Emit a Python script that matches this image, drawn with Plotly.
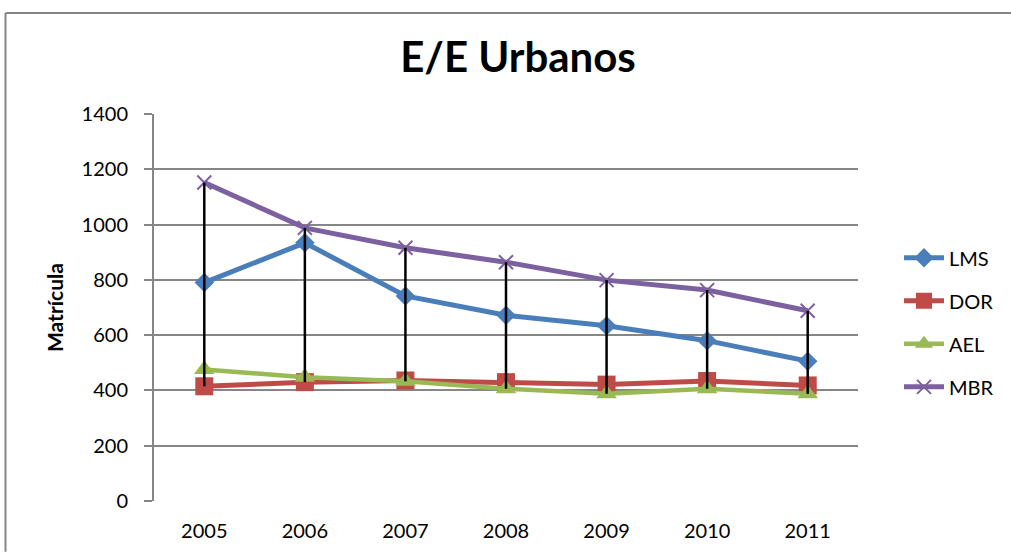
import plotly.graph_objects as go

years = ["2005", "2006", "2007", "2008", "2009", "2010", "2011"]
lms = [790, 934, 742, 672, 634, 580, 506]
dor = [415, 430, 436, 430, 421, 434, 418]
ael = [476, 448, 433, 406, 388, 406, 388]
mbr = [1152, 988, 916, 864, 799, 763, 688]

series_names = ["LMS", "DOR", "AEL", "MBR"]
series_values = [lms, dor, ael, mbr]
colors = ["#4A7EBB", "#BE4B48", "#98B954", "#7D60A0"]
symbols = ["diamond", "square", "triangle-up", "x-thin"]
msizes = [15, 18, 18, 14]
lwidths = [5, 5, 4.5, 5]

W, H = 1011, 554
L, R, T, B = 154, 153, 114, 51
PW, PH = W - L - R, H - T - B

fig = go.Figure()

for name, vals, c, sym, ms, lw in zip(series_names, series_values, colors, symbols, msizes, lwidths):
    marker = dict(symbol=sym, size=ms, color=c)
    if sym == "x-thin":
        marker["line"] = dict(color=c, width=2)
    fig.add_trace(go.Scatter(x=years, y=vals, mode="lines+markers", name=name,
                             legendgroup=name,
                             line=dict(color=c, width=lw), marker=marker))

# high-low lines (from min to max of all series at each category), drawn on top
hx, hy = [], []
for i, yr in enumerate(years):
    vals = [s[i] for s in series_values]
    hx += [yr, yr, None]
    hy += [max(vals), min(vals), None]
fig.add_trace(go.Scatter(x=hx, y=hy, mode="lines", line=dict(color="black", width=2.5),
                         showlegend=False, hoverinfo="skip"))

font = "Lato, 'Open Sans', sans-serif"
fig.update_layout(
    width=W, height=H,
    margin=dict(l=L, r=R, t=T, b=B),
    paper_bgcolor="white", plot_bgcolor="white",
    font=dict(family=font, color="black"),
    title=dict(text="<b>E/E Urbanos</b>", x=518 / W, xanchor="center",
               y=1 - 57 / H, yanchor="middle", font=dict(size=42, family=font, color="black")),
    xaxis=dict(type="category", range=[-0.5, 6.5], showgrid=False, showline=False,
               ticks="", tickfont=dict(size=20), ticklabelstandoff=16, zeroline=False),
    yaxis=dict(range=[0, 1400], dtick=200, showgrid=True, gridcolor="#868686", gridwidth=1.5,
               showline=True, linecolor="#868686", linewidth=2, ticks="outside",
               ticklen=8, tickcolor="#868686", tickwidth=1.5, tickfont=dict(size=20),
               ticklabelstandoff=12, zeroline=False,
               title=dict(text="<b>Matrícula</b>", font=dict(size=21), standoff=12)),
    legend=dict(x=(899 - L) / PW, xanchor="left", y=1 - (239 - T) / PH,
                yanchor="top", font=dict(size=20), tracegroupgap=14,
                itemwidth=40, bgcolor="rgba(0,0,0,0)"),
    showlegend=True,
)

# chart border: only the top and left edges fall inside the picture
bx0 = (5.5 - L) / PW
by1 = 1 + (T - 12.5) / PH
fig.add_shape(type="line", xref="paper", yref="paper", x0=bx0, x1=(W - L) / PW,
              y0=by1, y1=by1, line=dict(color="#868686", width=2), layer="below")
fig.add_shape(type="line", xref="paper", yref="paper", x0=bx0, x1=bx0,
              y0=-B / PH, y1=by1, line=dict(color="#868686", width=2), layer="below")

fig.write_html("out.html", config={"displayModeBar": False},
               post_script="document.body.style.margin='0';document.body.style.overflow='hidden';")
